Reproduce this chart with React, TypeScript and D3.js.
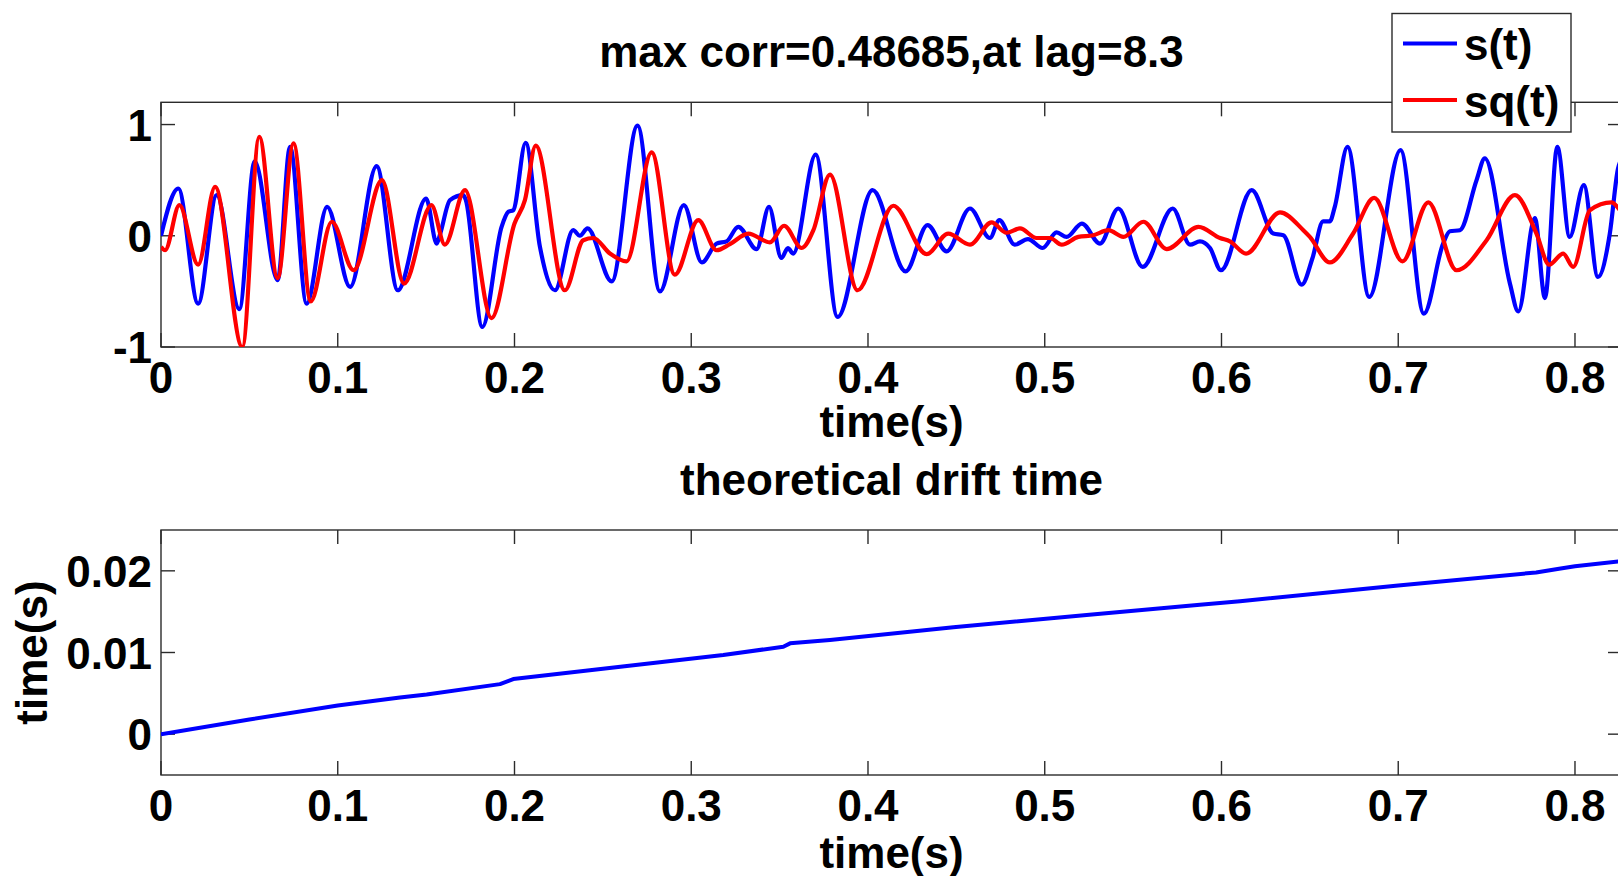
import React from "react";
import * as d3 from "d3";

// ---------- data ----------
const xTicks = [0, 0.1, 0.2, 0.3, 0.4, 0.5, 0.6, 0.7, 0.8];
const xTickLabels = ["0", "0.1", "0.2", "0.3", "0.4", "0.5", "0.6", "0.7", "0.8"];
const topYTicks = [-1, 0, 1];
const topYTickLabels = ["-1", "0", "1"];
const botYTicks = [0, 0.01, 0.02];
const botYTickLabels = ["0", "0.01", "0.02"];

const topTitle = "max corr=0.48685,at lag=8.3";
const botTitle = "theoretical drift time";
const xLabel = "time(s)";
const botYLabel = "time(s)";
const legendLabels = ["s(t)", "sq(t)"];

// s(t) (blue)
const sT = [
  0, 0.0098, 0.021, 0.0315, 0.0443, 0.053, 0.066, 0.073, 0.0824, 0.094, 0.107, 0.122, 0.134, 0.15, 0.156,
  0.158, 0.1635, 0.171, 0.1725, 0.1818, 0.1927, 0.1965, 0.1993, 0.2063, 0.2144, 0.2229, 0.2332, 0.237, 0.2413,
  0.255, 0.2696, 0.2823, 0.2958, 0.306, 0.3143, 0.32, 0.3266, 0.337, 0.344, 0.351, 0.3547, 0.3577, 0.3704,
  0.3828, 0.4026, 0.4213, 0.4337, 0.4445, 0.4577, 0.469, 0.4743, 0.483, 0.4905, 0.4988, 0.5067, 0.5124, 0.521,
  0.5313, 0.5416, 0.5554, 0.5724, 0.5822, 0.5878, 0.5935, 0.5997, 0.6171, 0.6293, 0.635, 0.6454, 0.6515,
  0.6575, 0.6613, 0.6641, 0.6713, 0.6836, 0.7013, 0.7145, 0.7254, 0.7292, 0.7349, 0.7443, 0.749, 0.7632,
  0.7679, 0.7773, 0.783, 0.79, 0.797, 0.805, 0.813, 0.8197, 0.8243, 0.8266,
];
const sV = [
  0, 0.425, -0.61, 0.365, -0.66, 0.67, -0.4, 0.8, -0.61, 0.26, -0.46, 0.626, -0.49, 0.335, -0.07,
  0.02, 0.32, 0.365, 0.32, -0.82, 0.08, 0.215, 0.23, 0.835, -0.1, -0.49, 0.05, 0.0, 0.066,
  -0.41, 0.99, -0.5, 0.275, -0.24, -0.07, -0.05, 0.08, -0.12, 0.26, -0.2, -0.11, -0.16, 0.73,
  -0.73, 0.41, -0.32, 0.096, -0.14, 0.245, -0.02, 0.14, -0.08, -0.03, -0.11, 0.03, -0.01, 0.11,
  -0.07, 0.245, -0.28, 0.245, -0.08, -0.05, -0.11, -0.31, 0.41, 0.02, 0.005, -0.44, -0.2,
  0.13, 0.13, 0.26, 0.8, -0.55, 0.77, -0.7, -0.07, 0.04, 0.05, 0.5, 0.695, -0.43,
  -0.68, 0.16, -0.56, 0.8, -0.01, 0.455, -0.37, 0.02, 0.6, 0.7,
];

// sq(t) (red)
const sqT = [
  0, 0.0023, 0.0104, 0.021, 0.0306, 0.046, 0.0556, 0.066, 0.075, 0.0847, 0.0966, 0.109, 0.125, 0.1375, 0.153,
  0.1606, 0.172, 0.187, 0.2, 0.2059, 0.212, 0.2285, 0.2389, 0.2446, 0.254, 0.2634, 0.2776, 0.2907, 0.304,
  0.3143, 0.3219, 0.3323, 0.3445, 0.3525, 0.3625, 0.3691, 0.3785, 0.3941, 0.4143, 0.4332, 0.4454, 0.4577,
  0.4699, 0.4784, 0.486, 0.4954, 0.503, 0.5096, 0.519, 0.5275, 0.536, 0.5445, 0.5558, 0.569, 0.587, 0.5992,
  0.6048, 0.6139, 0.6331, 0.6463, 0.65, 0.6613, 0.6745, 0.6864, 0.7024, 0.717, 0.733, 0.75, 0.766, 0.7782,
  0.7854, 0.7933, 0.799, 0.8084, 0.8207, 0.8244, 0.8266,
];
const sqV = [
  -0.1, -0.13, 0.275, -0.26, 0.44, -1.0, 0.89, -0.38, 0.83, -0.59, 0.126, -0.31, 0.5, -0.43, 0.275,
  -0.08, 0.41, -0.74, 0.11, 0.32, 0.81, -0.49, -0.04, -0.02, -0.16, -0.23, 0.75, -0.35, 0.14,
  -0.13, -0.075, 0.02, -0.06, 0.09, -0.11, 0.05, 0.55, -0.49, 0.27, -0.165, 0.02, -0.08,
  0.12, 0.027, 0.066, -0.02, -0.02, -0.08, -0.01, 0.005, 0.05, -0.01, 0.126, -0.12, 0.08, -0.02,
  -0.05, -0.16, 0.21, 0.05, -0.01, -0.24, 0.02, 0.34, -0.23, 0.3, -0.31, -0.04, 0.365, 0.02,
  -0.26, -0.16, -0.28, 0.23, 0.3, 0.25, 0.2,
];

// theoretical drift time
const driftT = [
  0, 0.05, 0.1, 0.1352, 0.1503, 0.1918, 0.1993, 0.2599, 0.3181, 0.3521, 0.3559, 0.3785,
  0.4483, 0.5237, 0.5878, 0.6105, 0.7, 0.778, 0.791, 0.8, 0.8266,
];
const driftV = [
  0, 0.0018, 0.0035, 0.00449, 0.00485, 0.00613, 0.00675, 0.00826, 0.00969, 0.01071,
  0.01112, 0.01153, 0.01308, 0.0146, 0.01585, 0.01628, 0.0182, 0.0198, 0.02025, 0.02055, 0.0212,
];

// ---------- layout ----------
const W = 1618;
const H = 876;
const FONT = "'Liberation Sans', Arial, Helvetica, sans-serif";
const FS = 44;
const AX = "#2b2b2b";
const TICK = 14;

export default function App() {
  const x = d3.scaleLinear().domain([0, 0.8266]).range([161, 1622]);
  const yTop = d3.scaleLinear().domain([-1, 1.2]).range([347, 102.3]);
  const yBot = d3.scaleLinear().domain([-0.005, 0.025]).range([775, 530]);

  const sData = sT.map((t, i) => [t, sV[i]] as [number, number]);
  const sqData = sqT.map((t, i) => [t, sqV[i]] as [number, number]);
  const dData = driftT.map((t, i) => [t, driftV[i]] as [number, number]);

  const lineTop = d3
    .line<[number, number]>()
    .x((d) => x(d[0]))
    .y((d) => yTop(d[1]))
    .curve(d3.curveMonotoneX);
  const lineBot = d3
    .line<[number, number]>()
    .x((d) => x(d[0]))
    .y((d) => yBot(d[1]))
    .curve(d3.curveLinear);

  const [x0, x1] = x.range();
  const cx = (x0 + x1) / 2;

  const renderAxes = (
    y: d3.ScaleLinear<number, number>,
    yTicks: number[],
    yLabels: string[]
  ) => {
    const [yb, yt] = y.range();
    return (
      <g>
        {xTicks.map((t, i) => (
          <g key={"xt" + i}>
            <line x1={x(t)} x2={x(t)} y1={yb} y2={yb - TICK} stroke={AX} strokeWidth={1.4} />
            <line x1={x(t)} x2={x(t)} y1={yt} y2={yt + TICK} stroke={AX} strokeWidth={1.4} />
            <text
              x={x(t)}
              y={yb + 46}
              textAnchor="middle"
              fontFamily={FONT}
              fontWeight="bold"
              fontSize={FS}
              fill="#000"
            >
              {xTickLabels[i]}
            </text>
          </g>
        ))}
        {yTicks.map((v, i) => (
          <g key={"yt" + i}>
            <line x1={x0} x2={x0 + TICK} y1={y(v)} y2={y(v)} stroke={AX} strokeWidth={1.4} />
            <line x1={x1} x2={x1 - TICK} y1={y(v)} y2={y(v)} stroke={AX} strokeWidth={1.4} />
            <text
              x={x0 - 9}
              y={y(v) + 16}
              textAnchor="end"
              fontFamily={FONT}
              fontWeight="bold"
              fontSize={FS}
              fill="#000"
            >
              {yLabels[i]}
            </text>
          </g>
        ))}
        <rect x={x0} y={yt} width={x1 - x0} height={yb - yt} fill="none" stroke={AX} strokeWidth={1.4} />
      </g>
    );
  };

  return (
    <svg
      width={W}
      height={H}
      style={{ position: "fixed", left: 0, top: 0, background: "#fff", display: "block" }}
    >
      <rect x={0} y={0} width={W} height={H} fill="#fff" />
      <defs>
        <clipPath id="clipTop">
          <rect x={x0} y={yTop.range()[1]} width={x1 - x0} height={yTop.range()[0] - yTop.range()[1]} />
        </clipPath>
        <clipPath id="clipBot">
          <rect x={x0} y={yBot.range()[1]} width={x1 - x0} height={yBot.range()[0] - yBot.range()[1]} />
        </clipPath>
      </defs>

      {/* top axes */}
      <text x={cx} y={67} textAnchor="middle" fontFamily={FONT} fontWeight="bold" fontSize={FS} fill="#000">
        {topTitle}
      </text>
      {renderAxes(yTop, topYTicks, topYTickLabels)}
      <g clipPath="url(#clipTop)">
        <path d={lineTop(sData) || ""} fill="none" stroke="#0000ff" strokeWidth={4.2} strokeLinejoin="round" />
        <path d={lineTop(sqData) || ""} fill="none" stroke="#ff0000" strokeWidth={4.2} strokeLinejoin="round" />
      </g>
      <text x={cx} y={437} textAnchor="middle" fontFamily={FONT} fontWeight="bold" fontSize={FS} fill="#000">
        {xLabel}
      </text>

      {/* legend */}
      <g>
        <rect x={1392} y={13.5} width={179} height={118.5} fill="#fff" stroke={AX} strokeWidth={1.4} />
        <line x1={1403} x2={1457} y1={43.5} y2={43.5} stroke="#0000ff" strokeWidth={4.2} />
        <line x1={1403} x2={1457} y1={100} y2={100} stroke="#ff0000" strokeWidth={4.2} />
        <text x={1464} y={60} fontFamily={FONT} fontWeight="bold" fontSize={FS} fill="#000">
          {legendLabels[0]}
        </text>
        <text x={1464} y={117} fontFamily={FONT} fontWeight="bold" fontSize={FS} fill="#000">
          {legendLabels[1]}
        </text>
      </g>

      {/* bottom axes */}
      <text x={cx} y={495} textAnchor="middle" fontFamily={FONT} fontWeight="bold" fontSize={FS} fill="#000">
        {botTitle}
      </text>
      {renderAxes(yBot, botYTicks, botYTickLabels)}
      <g clipPath="url(#clipBot)">
        <path d={lineBot(dData) || ""} fill="none" stroke="#0000ff" strokeWidth={4} strokeLinejoin="round" />
      </g>
      <text x={cx} y={868} textAnchor="middle" fontFamily={FONT} fontWeight="bold" fontSize={FS} fill="#000">
        {xLabel}
      </text>
      <text
        transform={`translate(47, ${(yBot.range()[0] + yBot.range()[1]) / 2}) rotate(-90)`}
        textAnchor="middle"
        fontFamily={FONT}
        fontWeight="bold"
        fontSize={FS}
        fill="#000"
      >
        {botYLabel}
      </text>
    </svg>
  );
}
